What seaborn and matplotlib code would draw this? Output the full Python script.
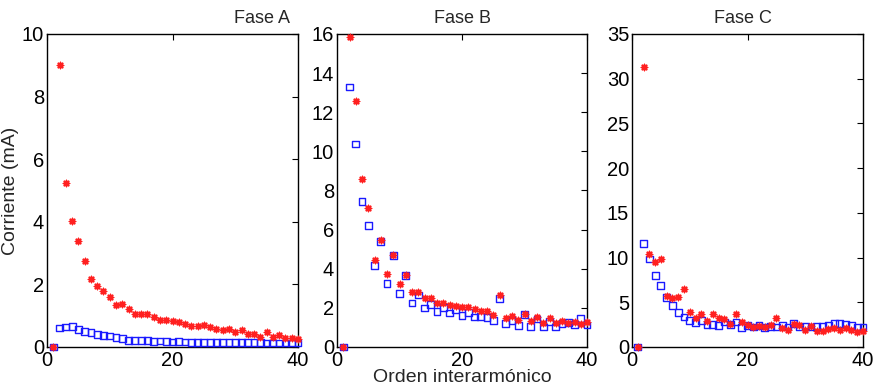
import numpy as np
import pandas as pd
import matplotlib
matplotlib.use("Agg")
import matplotlib.pyplot as plt
import seaborn as sns

order = list(range(1, 41))

fase_a_red = [0, 9.01, 5.23, 4.03, 3.39, 2.76, 2.16, 1.94, 1.80, 1.59,
              1.33, 1.38, 1.23, 1.07, 1.07, 1.06, 0.97, 0.87, 0.85, 0.82,
              0.80, 0.73, 0.68, 0.68, 0.70, 0.64, 0.56, 0.55, 0.57, 0.48,
              0.53, 0.40, 0.43, 0.32, 0.47, 0.33, 0.39, 0.29, 0.29, 0.27]
fase_a_blue = [0, 0.61, 0.64, 0.66, 0.55, 0.50, 0.46, 0.41, 0.38, 0.35,
               0.31, 0.27, 0.22, 0.20, 0.20, 0.20, 0.18, 0.19, 0.17, 0.16,
               0.17, 0.16, 0.15, 0.15, 0.15, 0.15, 0.15, 0.15, 0.14, 0.14,
               0.14, 0.14, 0.14, 0.14, 0.13, 0.13, 0.13, 0.13, 0.13, 0.13]

fase_b_red = [0, 15.83, 12.6, 8.61, 7.08, 4.46, 5.45, 3.73, 4.70, 3.23,
              3.66, 2.79, 2.79, 2.49, 2.49, 2.23, 2.23, 2.13, 2.08, 2.04,
              2.04, 1.96, 1.86, 1.82, 1.63, 2.64, 1.46, 1.57, 1.38, 1.67,
              1.31, 1.51, 1.23, 1.46, 1.23, 1.33, 1.21, 1.28, 1.16, 1.26]
fase_b_blue = [0, 13.29, 10.38, 7.42, 6.21, 4.17, 5.38, 3.25, 4.68, 2.74,
               3.66, 2.25, 2.66, 1.99, 2.18, 1.82, 2.03, 1.74, 1.91, 1.62,
               1.77, 1.53, 1.57, 1.50, 1.36, 2.49, 1.21, 1.34, 1.11, 1.65,
               1.06, 1.43, 1.02, 1.31, 1.02, 1.19, 1.24, 1.17, 1.46, 1.12]

fase_c_red = [0, 31.35, 10.42, 9.53, 9.87, 5.70, 5.47, 5.55, 6.48, 3.87,
              3.20, 3.65, 2.87, 3.65, 3.20, 3.13, 2.57, 3.65, 2.79, 2.46,
              2.23, 2.38, 2.23, 2.46, 3.24, 2.08, 1.94, 2.61, 2.42, 1.90,
              2.38, 1.82, 1.82, 1.97, 2.16, 1.90, 2.16, 1.94, 1.68, 1.75]
fase_c_blue = [0, 11.54, 9.83, 8.04, 6.89, 5.58, 4.65, 3.83, 3.35, 2.98,
               2.76, 2.94, 2.53, 2.53, 2.42, 2.79, 2.53, 2.79, 2.16, 2.38,
               2.23, 2.38, 2.16, 2.31, 2.23, 2.42, 2.23, 2.64, 2.23, 2.31,
               2.23, 2.31, 2.31, 2.46, 2.61, 2.61, 2.49, 2.38, 2.23, 2.23]

panel_titles = ["Fase A", "Fase B", "Fase C"]
title_x = [0.857, 0.5, 0.48]
y_limits = [10, 16, 35]
y_steps = [2, 2, 5]
x_ticks = [0, 20, 40]

sns.set_theme(style="white")
plt.rcParams["font.family"] = ["Liberation Sans", "DejaVu Sans"]

fig = plt.figure(figsize=(8.74, 3.9), dpi=100)
W, H = 874, 390
boxes = [(47, 298), (337, 587), (632, 863)]
top, bottom = 34, 347

series = [(fase_a_blue, fase_a_red), (fase_b_blue, fase_b_red), (fase_c_blue, fase_c_red)]

axes = []
for i, ((l, r), (blue, red)) in enumerate(zip(boxes, series)):
    ax = fig.add_axes([l / W, 1 - bottom / H, (r - l) / W, (bottom - top) / H])
    axes.append(ax)
    df = pd.DataFrame({"orden": order, "azul": blue, "rojo": red})
    sns.scatterplot(data=df, x="orden", y="azul", ax=ax, marker="s", s=24,
                    facecolor="none", edgecolor="#1a1aff", linewidth=1.0,
                    zorder=3, clip_on=False)
    sns.scatterplot(data=df, x="orden", y="rojo", ax=ax, marker=(8, 2, 0), s=20,
                    color="#ff2020", edgecolor="#ff2020", linewidth=1.1,
                    zorder=4, clip_on=False)
    ax.set_xlim(0, 40)
    ax.set_ylim(0, y_limits[i])
    ax.set_xticks(x_ticks)
    ax.set_yticks(np.arange(0, y_limits[i] + 0.1, y_steps[i]))
    ax.tick_params(direction="in", length=4, width=0.8, top=True, right=True,
                   labelsize=14.5, colors="black")
    ax.tick_params(axis="x", pad=3)
    ax.tick_params(axis="y", pad=2)
    for sp in ax.spines.values():
        sp.set_color("black")
        sp.set_linewidth(1.0)
    ax.set_title(panel_titles[i], fontsize=13, pad=8, x=title_x[i])
    ax.set_xlabel("")
    ax.set_ylabel("")

axes[0].set_ylabel("Corriente (mA)", fontsize=14, labelpad=2)
axes[1].set_xlabel("Orden interarmónico", fontsize=14, labelpad=-1)

fig.savefig("out.png", dpi=100)
